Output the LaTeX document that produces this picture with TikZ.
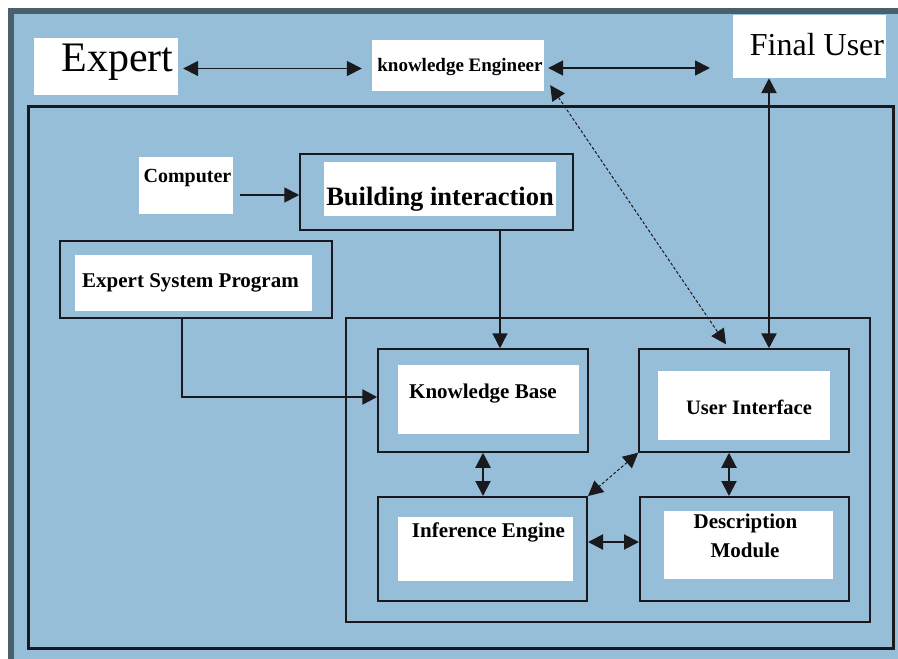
\documentclass[tikz,border=0pt]{standalone}
\usepackage{fontspec}
\setmainfont{Liberation Serif}
\usetikzlibrary{arrows.meta}
\definecolor{slate}{RGB}{74, 94, 108}
\definecolor{skyblue}{RGB}{151, 190, 216}
\definecolor{ink}{RGB}{25, 25, 30}

\begin{document}
\begin{tikzpicture}[x=1pt, y=-1pt,
        boxline/.style={draw=ink, line width=1.5pt, inner sep=0pt},
        paper/.style  ={fill=white, inner sep=0pt},
        txt/.style    ={inner sep=0pt, anchor=base, font=\bfseries\fontsize{21}{24}\selectfont},
        oneway/.style ={draw=ink, -{Triangle[length=15pt, width=15pt]}},
        twoway/.style ={draw=ink, {Triangle[length=15pt, width=15pt]}-{Triangle[length=15pt, width=15pt]}}]
            \useasboundingbox (0,0) rectangle (898,659);
            \clip             (0,0) rectangle (898,659);
            \fill[white]      (0,0) rectangle (898,659);
            \fill[slate]      (8,8) rectangle (910,670);
            \fill[skyblue]   (14,14) rectangle (910,670);

            % frames
            \node[boxline, line width=3pt, minimum width=865, minimum height=542] (system) at (460.5,377.0) {};
            \node[boxline,                 minimum width=524, minimum height=304] (core)   at (608.0,470.0) {};

            % top row
            \node[paper, minimum width=144, minimum height=57] (expert)    at (106.0, 66.5) {};
            \node[paper, minimum width=172, minimum height=51] (engineer)  at (458.0, 65.5) {};
            \node[paper, minimum width=153, minimum height=63] (finaluser) at (809.5, 46.5) {};
            \node[txt, font=\fontsize{42}{46}\selectfont] (experttext)    at (117.5, 71.0) {Expert};
            \node[txt, font=\bfseries\fontsize{19}{22}\selectfont] (engineertext) at (460.0, 71.0) {knowledge Engineer};
            \node[txt, font=\fontsize{32}{36}\selectfont] (finalusertext) at (817.0, 55.0) {Final User};
            \coordinate (reach) at (710,68);

            % building side
            \node[paper,   minimum width=94,  minimum height=57] (computer)  at (186.0,185.5) {};
            \node[boxline, minimum width=273, minimum height=76] (building)  at (436.5,192.0) {};
            \node[paper,   minimum width=232, minimum height=54] (buildpaper) at (440.0,189.0) {};
            \node[boxline, minimum width=272, minimum height=77] (program)   at (196.0,279.5) {};
            \node[paper,   minimum width=237, minimum height=56] (progpaper) at (193.5,283.0) {};
            \node[txt, font=\bfseries\fontsize{20}{23}\selectfont] (computertext) at (187.5,182.0) {Computer};
            \node[txt, font=\bfseries\fontsize{26.5}{30}\selectfont] (buildtext)  at (440.0,205.0) {Building interaction};
            \node[txt] (progtext) at (190.5,287.0) {Expert System Program};

            % expert system modules
            \node[boxline,                 minimum width=210, minimum height=103] (kbox) at (483.0,400.5) {};
            \node[boxline,                 minimum width=210, minimum height=103] (ubox) at (744.0,400.5) {};
            \node[boxline, line width=2pt, minimum width=209, minimum height=104] (ibox) at (482.5,549.0) {};
            \node[boxline, line width=2pt, minimum width=209, minimum height=104] (dbox) at (744.5,549.0) {};
            \node[paper, minimum width=181, minimum height=69] (kpaper) at (488.5,399.5) {};
            \node[paper, minimum width=172, minimum height=69] (upaper) at (744.0,405.5) {};
            \node[paper, minimum width=175, minimum height=64] (ipaper) at (485.5,549.0) {};
            \node[paper, minimum width=169, minimum height=68] (dpaper) at (748.5,545.0) {};
            \node[txt] (ktext)  at (483.0,398.0) {Knowledge Base};
            \node[txt, font=\bfseries\fontsize{20.5}{23}\selectfont] (utext) at (749.0,414.0) {User Interface};
            \node[txt] (itext)  at (488.5,537.0) {Inference Engine};
            \node[txt] (dtext)  at (745.5,528.0) {Description};
            \node[txt] (mtext)  at (745.0,557.0) {Module};

            % connectors
            \draw[twoway, line width=1.8pt, shorten <=5pt, shorten >=10pt] ([shift={(0,2)}]expert.east) -- ([shift={(0,2)}]expert.east -| engineer.west);
            \draw[twoway, line width=1.8pt, shorten <=4pt] (engineer.east |- reach) -- (reach);
            \draw[twoway, line width=2.5pt] ([shift={(25,0)}]ubox.north |- finaluser.south) -- ([shift={(25,0)}]ubox.north);
            \draw[twoway, line width=1pt, densely dashed] ([shift={(6,-6)}]engineer.south east) -- ([shift={(-18,-4)}]ubox.north);
            \draw[oneway, line width=1.8pt, shorten <=7pt] ([shift={(0,3)}]computer.east |- building.west) -- ([shift={(0,3)}]building.west);
            \draw[oneway, line width=1.5pt] ([shift={(17,0)}]kbox.north |- building.south) -- ([shift={(17,0)}]kbox.north);
            \draw[oneway, line width=2.5pt] ([shift={(-14,0)}]program.south) |- ([shift={(0,-3.5)}]kbox.west);
            \draw[twoway, line width=2pt] (kbox.south) -- (kbox.south |- ibox.north);
            \draw[twoway, line width=2pt] ([shift={(-15,0)}]ubox.south) -- ([shift={(-15,0)}]ubox.south |- dbox.north);
            \draw[twoway, line width=1pt, densely dashed] (ubox.south west) -- (ibox.north east);
            \draw[twoway, line width=2pt] ([shift={(0,-7)}]ibox.east) -- ([shift={(0,-7)}]dbox.west);
\end{tikzpicture}
\end{document}
